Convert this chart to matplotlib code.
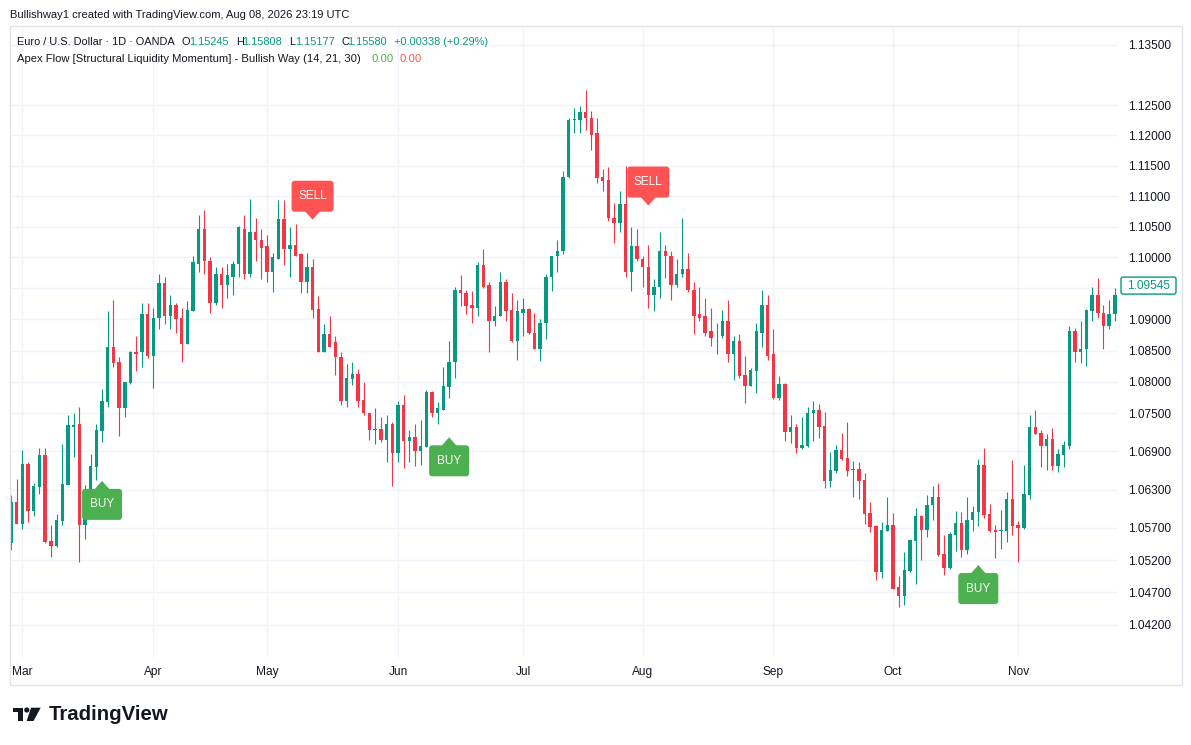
import numpy as np
import pandas as pd
import matplotlib
matplotlib.use('Agg')
import matplotlib.pyplot as plt
from matplotlib import transforms as mtransforms
from matplotlib.patches import FancyBboxPatch, Polygon, Rectangle, Circle
from matplotlib.ticker import NullLocator

plt.rcParams['font.family'] = ['Liberation Sans', 'DejaVu Sans']

# daily EUR/USD bars
opens = [
    1.0547, 1.0611, 1.0576, 1.0670, 1.0597, 1.0634, 1.0684, 1.0550, 1.0542, 1.0581,
    1.0637, 1.0729, 1.0733, 1.0575, 1.0614, 1.0666, 1.0722, 1.0768, 1.0856, 1.0832,
    1.0758, 1.0798, 1.0847, 1.0847, 1.0908, 1.0842, 1.0903, 1.0958, 1.0906, 1.0923,
    1.0902, 1.0861, 1.0913, 1.0990, 1.1047, 1.0995, 1.0927, 1.0974, 1.0955, 1.0969,
    1.0989, 1.1047, 1.0974, 1.1041, 1.1029, 1.1018, 1.0976, 1.0998, 1.1062, 1.1013,
    1.1020, 1.1005, 1.0960, 1.0984, 1.0916, 1.0848, 1.0876, 1.0863, 1.0840, 1.0769,
    1.0805, 1.0813, 1.0771, 1.0750, 1.0723, 1.0725, 1.0708, 1.0734, 1.0687, 1.0763,
    1.0706, 1.0712, 1.0691, 1.0697, 1.0784, 1.0750, 1.0756, 1.0792, 1.0832, 1.0947,
    1.0942, 1.0923, 1.0918, 1.0987, 1.0956, 1.0897, 1.0905, 1.0961, 1.0915, 1.0865,
    1.0911, 1.0916, 1.0879, 1.0853, 1.0894, 1.0969, 1.1002, 1.1010, 1.1131, 1.1225,
    1.1225, 1.1239, 1.1229, 1.1203, 1.1131, 1.1126, 1.1065, 1.1056, 1.1087, 1.0977,
    1.1018, 1.0998, 1.0985, 1.0939, 1.0952, 1.1010, 1.1003, 1.0956, 1.0973, 1.0982,
    1.0948, 1.0908, 1.0905, 1.0881, 1.0873, 1.0873, 1.0897, 1.0845, 1.0865, 1.0811,
    1.0794, 1.0818, 1.0879, 1.0924, 1.0844, 1.0774, 1.0797, 1.0720, 1.0728, 1.0695,
    1.0698, 1.0750, 1.0756, 1.0730, 1.0644, 1.0659, 1.0692, 1.0680, 1.0661, 1.0662,
    1.0645, 1.0594, 1.0573, 1.0501, 1.0565, 1.0575, 1.0478, 1.0465, 1.0503, 1.0550,
    1.0589, 1.0567, 1.0606, 1.0619, 1.0529, 1.0508, 1.0559, 1.0578, 1.0536, 1.0583,
    1.0595, 1.0669, 1.0592, 1.0567, 1.0565, 1.0565, 1.0615, 1.0575, 1.0570, 1.0622,
    1.0728, 1.0719, 1.0698, 1.0709, 1.0667, 1.0684, 1.0698, 1.0881, 1.0847, 1.0852,
    1.0913, 1.0940, 1.0911, 1.0889, 1.0908,
]
highs = [
    1.0622, 1.0647, 1.0692, 1.0673, 1.0641, 1.0695, 1.0695, 1.0575, 1.0592, 1.0702,
    1.0748, 1.0750, 1.0760, 1.0637, 1.0686, 1.0733, 1.0789, 1.0913, 1.0931, 1.0840,
    1.0800, 1.0850, 1.0873, 1.0927, 1.0927, 1.0918, 1.0974, 1.0968, 1.0939, 1.0926,
    1.0918, 1.0929, 1.1002, 1.1069, 1.1077, 1.1000, 1.0984, 1.0985, 1.0990, 1.0995,
    1.1051, 1.1069, 1.1096, 1.1064, 1.1046, 1.1036, 1.1008, 1.1093, 1.1093, 1.1049,
    1.1054, 1.1007, 1.1008, 1.0998, 1.0937, 1.0892, 1.0906, 1.0874, 1.0848, 1.0829,
    1.0832, 1.0821, 1.0800, 1.0751, 1.0758, 1.0744, 1.0747, 1.0736, 1.0769, 1.0779,
    1.0723, 1.0733, 1.0739, 1.0787, 1.0785, 1.0768, 1.0824, 1.0866, 1.0953, 1.0971,
    1.0947, 1.0945, 1.0992, 1.1013, 1.0960, 1.0921, 1.0977, 1.0965, 1.0942, 1.0932,
    1.0935, 1.0918, 1.0910, 1.0900, 1.0974, 1.1003, 1.1028, 1.1141, 1.1229, 1.1245,
    1.1248, 1.1275, 1.1240, 1.1229, 1.1145, 1.1147, 1.1088, 1.1108, 1.1150, 1.1049,
    1.1047, 1.1003, 1.1021, 1.0965, 1.1042, 1.1021, 1.1011, 1.0997, 1.1065, 1.1007,
    1.0961, 1.0953, 1.0935, 1.0919, 1.0895, 1.0915, 1.0932, 1.0873, 1.0877, 1.0842,
    1.0823, 1.0894, 1.0947, 1.0940, 1.0884, 1.0810, 1.0798, 1.0748, 1.0733, 1.0744,
    1.0760, 1.0769, 1.0765, 1.0752, 1.0689, 1.0700, 1.0719, 1.0737, 1.0675, 1.0673,
    1.0656, 1.0611, 1.0575, 1.0580, 1.0619, 1.0594, 1.0495, 1.0533, 1.0553, 1.0601,
    1.0590, 1.0622, 1.0636, 1.0641, 1.0559, 1.0564, 1.0597, 1.0595, 1.0619, 1.0605,
    1.0678, 1.0695, 1.0608, 1.0575, 1.0598, 1.0626, 1.0676, 1.0581, 1.0669, 1.0747,
    1.0756, 1.0723, 1.0717, 1.0727, 1.0694, 1.0706, 1.0889, 1.0887, 1.0897, 1.0916,
    1.0953, 1.0966, 1.0924, 1.0932, 1.0950,
]
lows = [
    1.0536, 1.0576, 1.0569, 1.0580, 1.0589, 1.0623, 1.0547, 1.0525, 1.0540, 1.0575,
    1.0637, 1.0681, 1.0517, 1.0553, 1.0612, 1.0645, 1.0705, 1.0760, 1.0824, 1.0714,
    1.0745, 1.0797, 1.0818, 1.0824, 1.0839, 1.0790, 1.0884, 1.0892, 1.0885, 1.0879,
    1.0832, 1.0860, 1.0913, 1.0977, 1.0974, 1.0910, 1.0924, 1.0918, 1.0935, 1.0939,
    1.0968, 1.0965, 1.0969, 1.0994, 1.0965, 1.0961, 1.0944, 1.0998, 1.0987, 1.0968,
    1.1002, 1.0942, 1.0942, 1.0902, 1.0848, 1.0847, 1.0855, 1.0811, 1.0763, 1.0760,
    1.0795, 1.0760, 1.0748, 1.0708, 1.0702, 1.0705, 1.0673, 1.0636, 1.0673, 1.0664,
    1.0673, 1.0667, 1.0669, 1.0697, 1.0744, 1.0734, 1.0755, 1.0774, 1.0806, 1.0921,
    1.0908, 1.0895, 1.0906, 1.0950, 1.0847, 1.0889, 1.0905, 1.0898, 1.0863, 1.0835,
    1.0873, 1.0877, 1.0852, 1.0834, 1.0868, 1.0945, 1.0977, 1.1005, 1.1129, 1.1204,
    1.1203, 1.1209, 1.1175, 1.1121, 1.1108, 1.1060, 1.1023, 1.1041, 1.0969, 1.0945,
    1.0995, 1.0953, 1.0919, 1.0913, 1.0935, 1.0966, 1.0931, 1.0953, 1.0968, 1.0944,
    1.0876, 1.0898, 1.0873, 1.0858, 1.0845, 1.0871, 1.0832, 1.0803, 1.0806, 1.0766,
    1.0793, 1.0782, 1.0856, 1.0835, 1.0773, 1.0771, 1.0706, 1.0703, 1.0687, 1.0694,
    1.0697, 1.0706, 1.0711, 1.0633, 1.0634, 1.0656, 1.0676, 1.0651, 1.0619, 1.0615,
    1.0576, 1.0564, 1.0489, 1.0492, 1.0565, 1.0475, 1.0448, 1.0451, 1.0501, 1.0483,
    1.0520, 1.0556, 1.0583, 1.0526, 1.0497, 1.0507, 1.0534, 1.0525, 1.0529, 1.0565,
    1.0573, 1.0586, 1.0564, 1.0523, 1.0537, 1.0548, 1.0559, 1.0517, 1.0569, 1.0615,
    1.0717, 1.0666, 1.0661, 1.0661, 1.0658, 1.0666, 1.0694, 1.0832, 1.0831, 1.0826,
    1.0898, 1.0902, 1.0853, 1.0884, 1.0897,
]
closes = [
    1.0611, 1.0576, 1.0670, 1.0597, 1.0636, 1.0684, 1.0548, 1.0542, 1.0583, 1.0639,
    1.0731, 1.0731, 1.0575, 1.0614, 1.0667, 1.0723, 1.0769, 1.0856, 1.0831, 1.0758,
    1.0800, 1.0847, 1.0845, 1.0908, 1.0842, 1.0903, 1.0958, 1.0906, 1.0923, 1.0900,
    1.0861, 1.0915, 1.0992, 1.1047, 1.0994, 1.0927, 1.0974, 1.0955, 1.0971, 1.0990,
    1.1049, 1.0974, 1.1041, 1.1028, 1.1016, 1.0976, 1.1000, 1.1062, 1.1013, 1.1020,
    1.1003, 1.0960, 1.0984, 1.0915, 1.0848, 1.0876, 1.0856, 1.0840, 1.0769, 1.0806,
    1.0813, 1.0769, 1.0750, 1.0723, 1.0725, 1.0708, 1.0734, 1.0687, 1.0763, 1.0706,
    1.0712, 1.0691, 1.0698, 1.0784, 1.0750, 1.0758, 1.0794, 1.0832, 1.0947, 1.0942,
    1.0921, 1.0918, 1.0987, 1.0953, 1.0897, 1.0906, 1.0961, 1.0913, 1.0865, 1.0913,
    1.0916, 1.0879, 1.0853, 1.0894, 1.0969, 1.1002, 1.1010, 1.1132, 1.1225, 1.1227,
    1.1239, 1.1229, 1.1201, 1.1129, 1.1124, 1.1064, 1.1056, 1.1087, 1.0977, 1.1018,
    1.0997, 1.0984, 1.0939, 1.0952, 1.1010, 1.1002, 1.0956, 1.0974, 1.0982, 1.0947,
    1.0906, 1.0903, 1.0879, 1.0871, 1.0874, 1.0897, 1.0845, 1.0865, 1.0810, 1.0794,
    1.0819, 1.0881, 1.0924, 1.0842, 1.0774, 1.0797, 1.0720, 1.0728, 1.0695, 1.0700,
    1.0750, 1.0756, 1.0728, 1.0644, 1.0661, 1.0692, 1.0678, 1.0659, 1.0662, 1.0644,
    1.0592, 1.0572, 1.0501, 1.0567, 1.0575, 1.0476, 1.0465, 1.0504, 1.0551, 1.0589,
    1.0567, 1.0606, 1.0619, 1.0528, 1.0508, 1.0561, 1.0578, 1.0536, 1.0583, 1.0595,
    1.0669, 1.0590, 1.0565, 1.0564, 1.0567, 1.0615, 1.0573, 1.0570, 1.0623, 1.0728,
    1.0717, 1.0698, 1.0709, 1.0667, 1.0686, 1.0700, 1.0881, 1.0847, 1.0853, 1.0915,
    1.0940, 1.0910, 1.0889, 1.0908, 1.0940,
]
dates = pd.bdate_range('2023-02-27', periods=len(closes))

price_ticks = [1.042, 1.047, 1.052, 1.057, 1.063, 1.069, 1.075, 1.080, 1.085,
               1.090, 1.095, 1.100, 1.105, 1.110, 1.115, 1.120, 1.125, 1.135]
price_labels = ['1.04200', '1.04700', '1.05200', '1.05700', '1.06300', '1.06900',
                '1.07500', '1.08000', '1.08500', '1.09000', '', '1.10000', '1.10500',
                '1.11000', '1.11500', '1.12000', '1.12500', '1.13500']
last_price = 1.09545

# signal labels: (bar index, kind)
signals = [(16, 'BUY'), (53, 'SELL'), (77, 'BUY'), (112, 'SELL'), (170, 'BUY')]

GREEN = '#089981'
RED = '#f23645'
TEXT = '#131722'
GRID = '#f0f3fa'

W, H = 1191, 745
fig = plt.figure(figsize=(W / 100, H / 100), dpi=100)
fig.patch.set_facecolor('white')

ax = fig.add_axes([10 / W, (H - 657) / H, 1108 / W, 631 / H])
ax.set_yscale('log')
ax.set_ylim(1.03709, 1.13818)
ax.set_xlim(-0.176, 194.55)
for s in ax.spines.values():
    s.set_visible(False)

o = np.array(opens)
h = np.array(highs)
l = np.array(lows)
c = np.array(closes)
x = np.arange(len(c))
cols = np.where(c >= o, GREEN, RED)

ax.vlines(x, l, h, colors=cols, lw=0.8, zorder=3)
body_lo = np.minimum(o, c)
body_h = np.maximum(np.abs(c - o), 0.00012)
ax.bar(x, body_h, bottom=body_lo, width=0.6, color=cols, linewidth=0, zorder=4)

# axes, ticks, grid
ax.yaxis.set_minor_locator(NullLocator())
ax.set_yticks(price_ticks)
ax.set_yticklabels(price_labels)
ax.yaxis.tick_right()
ax.tick_params(axis='y', length=0, pad=7.5, labelsize=8.6, labelcolor=TEXT)

month_idx = [i for i in range(1, len(dates)) if dates[i].month != dates[i - 1].month]
ax.set_xticks(month_idx)
ax.set_xticklabels([dates[i].strftime('%b') for i in month_idx])
ax.tick_params(axis='x', length=0, pad=6.5, labelsize=8.6, labelcolor=TEXT)
ax.grid(True, color=GRID, lw=1, zorder=0)

# buy / sell labels, sized in pixels around the bar's low / high
px = 0.01
for idx, kind in signals:
    if kind == 'BUY':
        anchor, sign, color, bw = lows[idx], -1, '#4caf50', 40
    else:
        anchor, sign, color, bw = highs[idx], 1, '#ff5252', 42
    tr = fig.dpi_scale_trans + mtransforms.ScaledTranslation(idx, anchor, ax.transData)
    tri = Polygon([(0, sign * 39 * px), (-8 * px, sign * 48 * px), (8 * px, sign * 48 * px)],
                  closed=True, transform=tr, fc=color, ec='none', zorder=6)
    ax.add_artist(tri)
    y0 = -78 * px if sign < 0 else 47 * px
    box = FancyBboxPatch((-bw / 2 * px, y0), bw * px, 31 * px,
                         boxstyle='round,pad=0,rounding_size=0.03',
                         transform=tr, fc=color, ec='none', zorder=6)
    ax.add_artist(box)
    ax.text(0, sign * 62.5 * px, kind, transform=tr, color='white', fontsize=8.5,
            ha='center', va='center', zorder=7)

# last price tag on the price scale
blend = mtransforms.blended_transform_factory(ax.transAxes, ax.transData)
tr = fig.dpi_scale_trans + mtransforms.ScaledTranslation(1.0, last_price, blend)
tag = FancyBboxPatch((3 * px, -8.5 * px), 55 * px, 17 * px,
                     boxstyle='round,pad=0,rounding_size=0.02',
                     transform=tr, fc='white', ec=GREEN, lw=1, clip_on=False, zorder=8)
ax.add_artist(tag)
ax.text(30.5 * px, 0, f'{last_price:.5f}', transform=tr, color=GREEN, fontsize=8.6,
        ha='center', va='center', clip_on=False, zorder=9)

# page furniture in pixel coordinates
pg = fig.add_axes([0, 0, 1, 1])
pg.set_xlim(0, W)
pg.set_ylim(H, 0)
pg.axis('off')
pg.add_patch(Rectangle((10, 26), 1172, 659, fill=False, ec='#e0e3eb', lw=1))

renderer = fig.canvas.get_renderer()


def fitted(xp, yp, s, width, color=TEXT, **kw):
    t = pg.text(xp, yp, s, color=color, fontsize=10, ha='left', va='center', **kw)
    w = t.get_window_extent(renderer).width
    t.set_fontsize(10 * width / w)
    return t.get_fontsize()


fitted(10, 15, 'Bullishway1 created with TradingView.com, Aug 08, 2026 23:19 UTC', 339)
fs = fitted(17, 42, 'Euro / U.S. Dollar \u00b7 1D \u00b7 OANDA', 158)
for xp, s, col in [(182, 'O', TEXT), (189, '1.15245', GREEN), (236, 'H', TEXT),
                   (242.5, '1.15808', GREEN), (289, 'L', TEXT), (295, '1.15177', GREEN),
                   (341.5, 'C', TEXT), (347.5, '1.15580', GREEN),
                   (393.5, '+0.00338 (+0.29%)', GREEN)]:
    pg.text(xp, 42, s, color=col, fontsize=fs, ha='left', va='center')
fs2 = fitted(17, 59, 'Apex Flow [Structural Liquidity Momentum] - Bullish Way (14, 21, 30)', 346)
pg.text(372, 59, '0.00', color='#4caf50', fontsize=fs2, ha='left', va='center')
pg.text(400, 59, '0.00', color='#ff5252', fontsize=fs2, ha='left', va='center')

# TradingView logo
pg.add_patch(Polygon([(12.7, 707.7), (23.3, 707.7), (23.3, 721), (18.3, 721),
                      (18.3, 712.3), (12.7, 712.3)], closed=True, fc=TEXT, ec='none'))
pg.add_patch(Circle((26.8, 710), 2.6, fc=TEXT, ec='none'))
pg.add_patch(Polygon([(31, 707.7), (40.7, 707.7), (33.5, 721), (26.7, 721)],
                     closed=True, fc=TEXT, ec='none'))
fitted(49, 714.5, 'TradingView', 120, weight='bold')

fig.savefig('out.png', dpi=100, facecolor='white')
